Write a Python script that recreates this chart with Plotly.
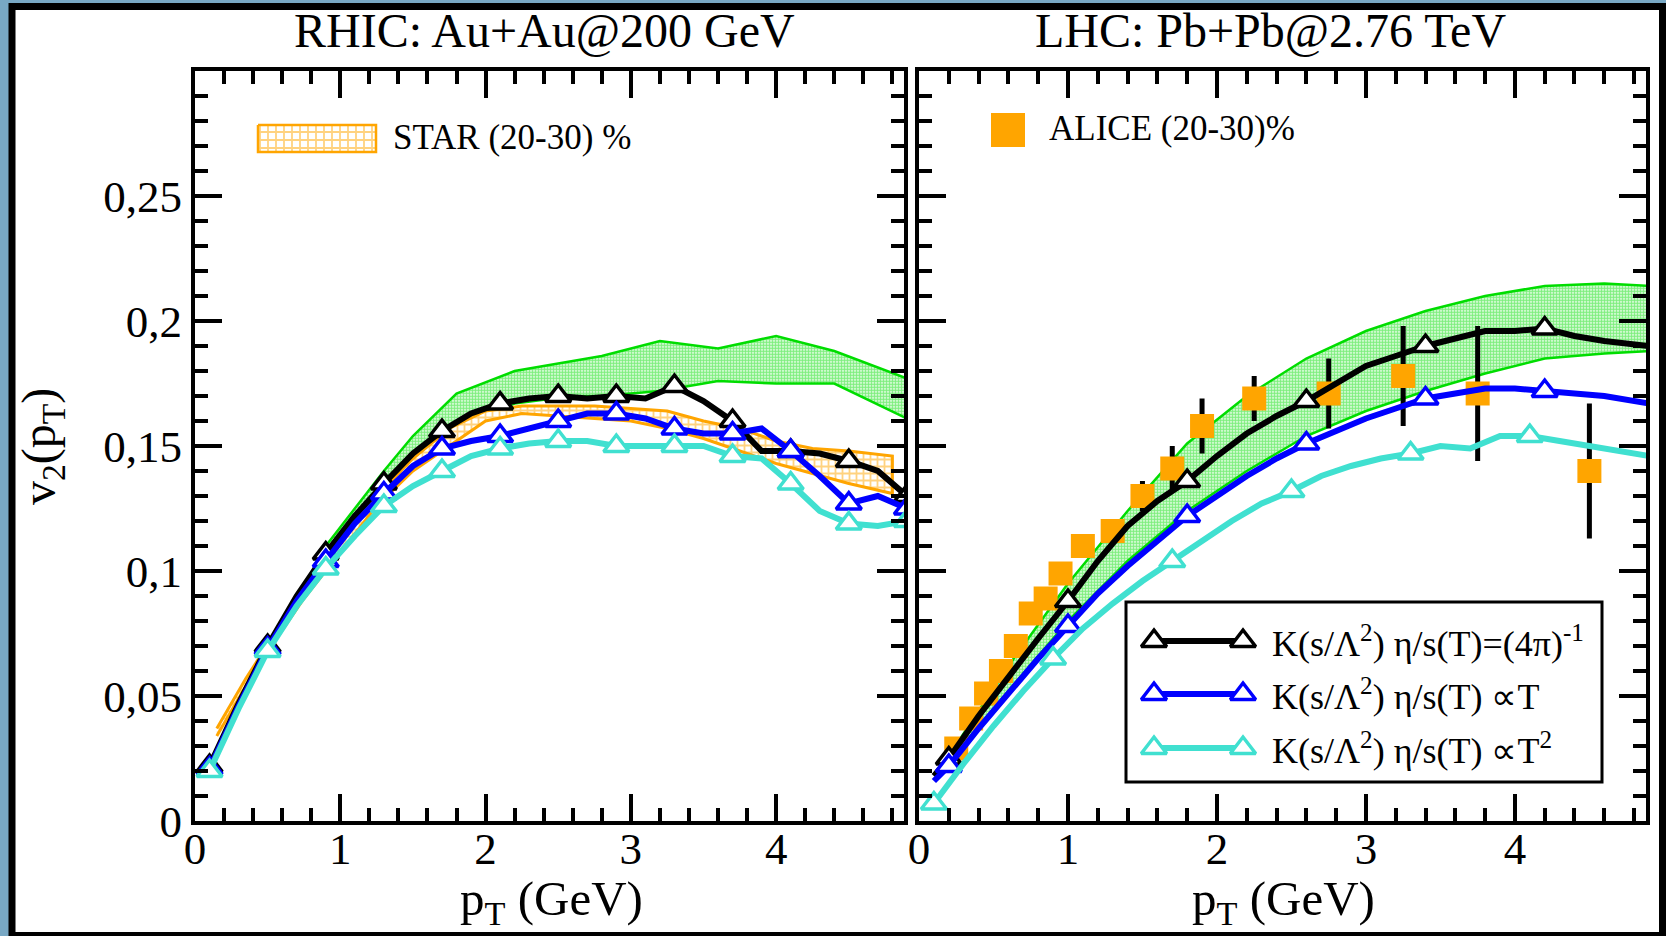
import numpy as np
import plotly.graph_objects as go

# ======================= DATA =======================
# ---- Left panel: RHIC Au+Au @ 200 GeV ----
pt_rhic = [0.1, 0.3, 0.5, 0.7, 0.9, 1.1, 1.3, 1.5, 1.7, 1.9, 2.1, 2.3, 2.5,
           2.7, 2.9, 3.1, 3.3, 3.5, 3.7, 3.9, 4.1, 4.3, 4.5, 4.7, 4.9]
v2_rhic_const = [0.022, 0.047, 0.070, 0.090, 0.107, 0.122, 0.135, 0.147, 0.156, 0.163, 0.167, 0.169, 0.170,
                 0.169, 0.170, 0.169, 0.174, 0.168, 0.160, 0.148, 0.148, 0.147, 0.144, 0.140, 0.130]
v2_rhic_T = [0.021, 0.046, 0.069, 0.088, 0.104, 0.119, 0.131, 0.142, 0.149, 0.152, 0.154, 0.157, 0.160,
             0.163, 0.163, 0.161, 0.157, 0.155, 0.155, 0.157, 0.148, 0.138, 0.127, 0.130, 0.125]
v2_rhic_T2 = [0.020, 0.045, 0.068, 0.086, 0.101, 0.114, 0.126, 0.134, 0.140, 0.146, 0.149, 0.151, 0.152,
              0.152, 0.150, 0.150, 0.150, 0.150, 0.146, 0.145, 0.135, 0.124, 0.119, 0.118, 0.120]
rhic_marker_pt = [0.1, 0.5, 0.9, 1.3, 1.7, 2.1, 2.5, 2.9, 3.3, 3.7, 4.1, 4.5, 4.9]

star_pt = [0.15, 0.35, 0.55, 0.75, 0.95, 1.25, 1.5, 1.75, 2.0, 2.25, 2.5, 2.75, 3.0, 3.25, 3.5, 3.75, 4.0, 4.25, 4.5, 4.8]
star_hi = [0.037, 0.057, 0.075, 0.092, 0.107, 0.130, 0.145, 0.157, 0.164, 0.166, 0.166, 0.166, 0.165, 0.164,
           0.160, 0.157, 0.152, 0.149, 0.148, 0.146]
star_lo = [0.034, 0.054, 0.072, 0.089, 0.104, 0.126, 0.140, 0.150, 0.160, 0.163, 0.162, 0.161, 0.160, 0.157,
           0.153, 0.148, 0.143, 0.139, 0.135, 0.131]

band_rhic_pt = [0.9, 1.1, 1.3, 1.5, 1.8, 2.2, 2.6, 2.8, 3.2, 3.6, 4.0, 4.4, 4.9]
band_rhic_hi = [0.110, 0.125, 0.140, 0.154, 0.171, 0.180, 0.184, 0.186, 0.192, 0.189, 0.194, 0.188, 0.177]
band_rhic_lo = [0.107, 0.122, 0.135, 0.147, 0.158, 0.167, 0.170, 0.170, 0.172, 0.176, 0.175, 0.175, 0.161]

# ---- Right panel: LHC Pb+Pb @ 2.76 TeV ----
pt_lhc = [0.1, 0.2, 0.4, 0.6, 0.8, 1.0, 1.2, 1.4, 1.6, 1.8, 2.0, 2.2, 2.4,
          2.6, 2.8, 3.0, 3.2, 3.4, 3.6, 3.8, 4.0, 4.2, 4.4, 4.6, 4.9]
v2_lhc_const = [0.018, 0.025, 0.042, 0.058, 0.073, 0.088, 0.104, 0.118, 0.128, 0.136, 0.146, 0.155, 0.162,
                0.168, 0.175, 0.182, 0.186, 0.190, 0.193, 0.196, 0.196, 0.197, 0.194, 0.192, 0.190]
v2_lhc_T = [0.016, 0.022, 0.037, 0.051, 0.065, 0.078, 0.091, 0.102, 0.112, 0.122, 0.130, 0.138, 0.145,
            0.151, 0.156, 0.161, 0.165, 0.169, 0.171, 0.173, 0.173, 0.172, 0.171, 0.170, 0.167]
pt_lhc_T2 = [0.1, 0.3, 0.5, 0.7, 0.9, 1.1, 1.3, 1.5, 1.7, 1.9, 2.1, 2.3, 2.5,
             2.7, 2.9, 3.1, 3.3, 3.5, 3.7, 3.9, 4.1, 4.3, 4.5, 4.7, 4.9]
v2_lhc_T2 = [0.007, 0.023, 0.038, 0.052, 0.065, 0.077, 0.087, 0.096, 0.104, 0.112, 0.120, 0.127, 0.132,
             0.138, 0.142, 0.145, 0.147, 0.150, 0.149, 0.154, 0.154, 0.152, 0.150, 0.148, 0.146]
lhc_marker_pt = [0.2, 1.0, 1.8, 2.6, 3.4, 4.2]
lhc_marker_pt_T2 = [0.1, 0.9, 1.7, 2.5, 3.3, 4.1, 4.9]

alice_pt = [0.25, 0.35, 0.45, 0.55, 0.65, 0.75, 0.85, 0.95, 1.1, 1.3, 1.5, 1.7, 1.9, 2.25, 2.75, 3.25, 3.75, 4.5]
alice_v2 = [0.029, 0.041, 0.051, 0.060, 0.070, 0.083, 0.089, 0.099, 0.110, 0.116, 0.130, 0.141, 0.158,
            0.169, 0.171, 0.178, 0.171, 0.140]
alice_err = [0.003, 0.003, 0.003, 0.003, 0.003, 0.003, 0.003, 0.004, 0.004, 0.004, 0.006, 0.009, 0.011,
             0.009, 0.014, 0.020, 0.027, 0.027]

band_lhc_pt = [0.2, 0.6, 1.0, 1.4, 1.8, 2.2, 2.6, 3.0, 3.4, 3.8, 4.2, 4.6, 4.9]
band_lhc_hi = [0.026, 0.062, 0.095, 0.124, 0.151, 0.170, 0.185, 0.196, 0.204, 0.210, 0.214, 0.215, 0.214]
band_lhc_lo = [0.023, 0.052, 0.080, 0.104, 0.124, 0.140, 0.154, 0.164, 0.172, 0.179, 0.185, 0.187, 0.188]

x_tickvals = [0, 1, 2, 3, 4]
x_ticktext = ["0", "1", "2", "3", "4"]
y_tickvals = [0, 0.05, 0.10, 0.15, 0.20, 0.25]
y_ticktext = ["0", "0,05", "0,1", "0,15", "0,2", "0,25"]

legend_labels = ["K(s/Λ<sup>2</sup>) η/s(T)=(4π)<sup>-1</sup>",
                 "K(s/Λ<sup>2</sup>) η/s(T) ∝T",
                 "K(s/Λ<sup>2</sup>) η/s(T) ∝T<sup>2</sup>"]

# ======================= STYLE =======================
W, H = 1666, 936
SERIF = "Liberation Serif, Times New Roman, serif"
C_BLACK, C_BLUE, C_CYAN = "#000000", "#0000ff", "#40e0d0"
C_ORANGE, C_GREEN = "#ffa500", "#00dd00"
FRAME_BLUE = "#78a8c4"
LW = 6
MSIZE = 22
X_RANGE = [0, 4.88]
Y_RANGE = [0, 0.3]


def px_x(p):
    return p / W


def px_y(p):
    return 1 - p / H


def pick(pt, v, marks):
    pt = np.asarray(pt)
    v = np.asarray(v)
    idx = [int(np.argmin(np.abs(pt - m))) for m in marks]
    return pt[idx], v[idx]


def band_polygon(pt, lo, hi):
    return list(pt) + list(pt[::-1]), list(hi) + list(lo[::-1])


GREEN_PATTERN = dict(shape=".", fgcolor=C_GREEN, bgcolor="white", size=3, solidity=0.7)
STAR_PATTERN = dict(shape="+", fgcolor=C_ORANGE, bgcolor="white", size=7, solidity=0.45)

fig = go.Figure()

# ---------------- left panel ----------------
bx, by = band_polygon(band_rhic_pt, band_rhic_lo, band_rhic_hi)
fig.add_trace(go.Scatter(x=bx, y=by, xaxis="x", yaxis="y", mode="lines", fill="toself",
                         line=dict(color=C_GREEN, width=2.5), fillpattern=GREEN_PATTERN,
                         fillcolor="white", showlegend=False, hoverinfo="skip"))
sx, sy = band_polygon(star_pt, star_lo, star_hi)
fig.add_trace(go.Scatter(x=sx, y=sy, xaxis="x", yaxis="y", mode="lines", fill="toself",
                         line=dict(color=C_ORANGE, width=3), fillpattern=STAR_PATTERN,
                         fillcolor="white", showlegend=False, hoverinfo="skip"))

for vals, col in [(v2_rhic_const, C_BLACK), (v2_rhic_T, C_BLUE), (v2_rhic_T2, C_CYAN)]:
    fig.add_trace(go.Scatter(x=pt_rhic, y=vals, xaxis="x", yaxis="y", mode="lines",
                             line=dict(color=col, width=LW), showlegend=False))
    mx, my = pick(pt_rhic, vals, rhic_marker_pt)
    fig.add_trace(go.Scatter(x=mx, y=my, xaxis="x", yaxis="y", mode="markers",
                             marker=dict(symbol="triangle-up", size=MSIZE, color="white",
                                         line=dict(color=col, width=3.5)),
                             showlegend=False))

# ---------------- right panel ----------------
bx, by = band_polygon(band_lhc_pt, band_lhc_lo, band_lhc_hi)
fig.add_trace(go.Scatter(x=bx, y=by, xaxis="x2", yaxis="y2", mode="lines", fill="toself",
                         line=dict(color=C_GREEN, width=2.5), fillpattern=GREEN_PATTERN,
                         fillcolor="white", showlegend=False, hoverinfo="skip"))
fig.add_trace(go.Scatter(x=alice_pt, y=alice_v2, xaxis="x2", yaxis="y2", mode="markers",
                         marker=dict(symbol="square", size=24, color=C_ORANGE, line=dict(width=0)),
                         error_y=dict(type="data", array=alice_err, color="black", thickness=5, width=0),
                         showlegend=False))

for pts, vals, col, marks in [(pt_lhc, v2_lhc_const, C_BLACK, lhc_marker_pt),
                              (pt_lhc, v2_lhc_T, C_BLUE, lhc_marker_pt),
                              (pt_lhc_T2, v2_lhc_T2, C_CYAN, lhc_marker_pt_T2)]:
    fig.add_trace(go.Scatter(x=pts, y=vals, xaxis="x2", yaxis="y2", mode="lines",
                             line=dict(color=col, width=LW), showlegend=False))
    mx, my = pick(pts, vals, marks)
    fig.add_trace(go.Scatter(x=mx, y=my, xaxis="x2", yaxis="y2", mode="markers", cliponaxis=False,
                             marker=dict(symbol="triangle-up", size=MSIZE, color="white",
                                         line=dict(color=col, width=3.5)),
                             showlegend=False))

# ---------------- legend artwork (pixel overlay axes) ----------------
fig.add_trace(go.Scatter(x=[258, 376, 376, 258, 258], y=[125, 125, 152, 152, 125], xaxis="x3", yaxis="y3",
                         mode="lines", fill="toself", line=dict(color=C_ORANGE, width=2.5),
                         fillpattern=dict(shape="+", fgcolor=C_ORANGE, bgcolor="white", size=8, solidity=0.4),
                         fillcolor="white", showlegend=False, hoverinfo="skip"))
fig.add_trace(go.Scatter(x=[1008], y=[130], xaxis="x3", yaxis="y3", mode="markers",
                         marker=dict(symbol="square", size=34, color=C_ORANGE), showlegend=False))
row_y = [641, 694, 748]
for ry, col in zip(row_y, [C_BLACK, C_BLUE, C_CYAN]):
    fig.add_trace(go.Scatter(x=[1154, 1243], y=[ry, ry], xaxis="x3", yaxis="y3", mode="lines+markers",
                             line=dict(color=col, width=LW),
                             marker=dict(symbol="triangle-up", size=MSIZE, color="white",
                                         line=dict(color=col, width=3.5)),
                             showlegend=False, cliponaxis=False))


# ======================= AXES =======================
def make_axis(domain, anchor, rng, tickvals, ticktext, minor_dtick, showlabels, standoff):
    return dict(domain=domain, anchor=anchor, range=rng, showgrid=False, zeroline=False,
                showline=True, linecolor="black", linewidth=4, mirror="ticks",
                ticks="inside", ticklen=27, tickwidth=4, tickcolor="black",
                tickmode="array", tickvals=tickvals, ticktext=ticktext,
                showticklabels=showlabels, automargin=False, ticklabelstandoff=standoff,
                tickfont=dict(family=SERIF, size=45, color="black"),
                minor=dict(ticks="inside", ticklen=13, tickwidth=4, tickcolor="black",
                           tickmode="linear", tick0=0, dtick=minor_dtick, showgrid=False),
                fixedrange=True)


yd = [px_y(821), px_y(71)]
layout_axes = dict(
    xaxis=make_axis([px_x(195), px_x(904)], "y", X_RANGE, x_tickvals, x_ticktext, 0.2, True, -15),
    yaxis=make_axis(yd, "x", Y_RANGE, y_tickvals, y_ticktext, 0.01, True, 0),
    xaxis2=make_axis([px_x(919), px_x(1646)], "y2", X_RANGE, x_tickvals, x_ticktext, 0.2, True, -15),
    yaxis2=make_axis(yd, "x2", Y_RANGE, y_tickvals, y_ticktext, 0.01, False, 0),
    xaxis3=dict(domain=[0, 1], anchor="y3", range=[0, W], visible=False, fixedrange=True, automargin=False),
    yaxis3=dict(domain=[0, 1], anchor="x3", range=[H, 0], visible=False, fixedrange=True, automargin=False),
)


# ======================= ANNOTATIONS =======================
def ann(text, x, y, size, xanchor="center", yanchor="middle", angle=0):
    return dict(text=text, x=px_x(x), y=px_y(y), xref="paper", yref="paper", showarrow=False,
                xanchor=xanchor, yanchor=yanchor, textangle=angle,
                font=dict(family=SERIF, size=size, color="black"))


annotations = [
    ann("RHIC: Au+Au@200 GeV", 544, 31, 48),
    ann("LHC: Pb+Pb@2.76 TeV", 1270, 31, 48),
    ann("p<sub>T</sub> (GeV)", 551, 901, 49),
    ann("p<sub>T</sub> (GeV)", 1283, 901, 49),
    ann("v<sub>2</sub>(p<sub>T</sub>)", 42, 447, 48, angle=-90),
    ann("STAR (20-30) %", 391, 137, 35, xanchor="left"),
    ann("ALICE (20-30)%", 1047, 129, 35, xanchor="left"),
]
for ry, lab in zip(row_y, legend_labels):
    annotations.append(ann(lab, 1270, ry, 36, xanchor="left"))

shapes = [
    dict(type="rect", xref="paper", yref="paper", x0=px_x(12), x1=px_x(1662.5), y0=px_y(935.5), y1=px_y(6.5),
         fillcolor="white", line=dict(color="black", width=7), layer="below"),
    dict(type="rect", xref="paper", yref="paper", x0=px_x(1126), x1=px_x(1602), y0=px_y(782), y1=px_y(602),
         line=dict(color="black", width=3), layer="above"),
]

fig.update_layout(
    width=W, height=H, margin=dict(l=0, r=0, t=0, b=0, pad=0, autoexpand=False),
    paper_bgcolor=FRAME_BLUE, plot_bgcolor="rgba(0,0,0,0)",
    showlegend=False, annotations=annotations, shapes=shapes,
    font=dict(family=SERIF, color="black"),
    **layout_axes,
)

fig.write_html("out.html", config={"displayModeBar": False})
